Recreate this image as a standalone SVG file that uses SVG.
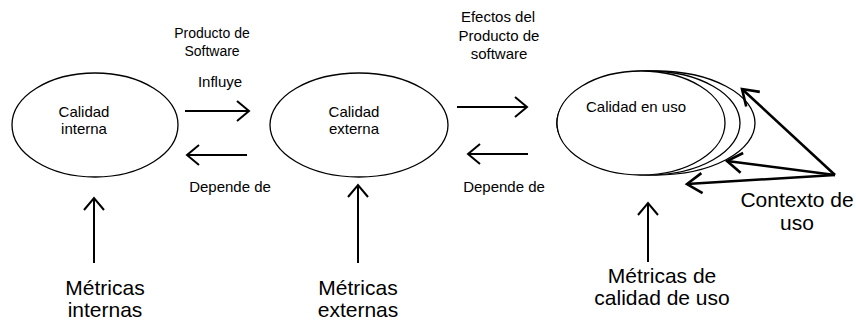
<svg xmlns="http://www.w3.org/2000/svg" width="856" height="320" viewBox="0 0 856 320">
<style>
text{font-family:"Liberation Sans",Arial,sans-serif;fill:#000;text-anchor:middle}
.s{font-size:15px}
.t{font-size:14px}
.b{font-size:21px}
.e{fill:#fff;stroke:#000;stroke-width:1.3}
.c{fill:none;stroke:#000;stroke-width:2}
.k{fill:none;stroke:#000;stroke-width:2.6}
</style>
<defs>
<marker id="ah" markerUnits="userSpaceOnUse" markerWidth="30" markerHeight="30" viewBox="-16 -15 20 30" refX="0" refY="0" orient="auto">
<path d="M-12,-10 L0,0 L-12,10" fill="none" stroke="#000" stroke-width="2"/>
</marker>
<marker id="ah2" markerUnits="userSpaceOnUse" markerWidth="30" markerHeight="30" viewBox="-20 -15 24 30" refX="0" refY="0" orient="auto">
<path d="M-15,-10 L0,0 L-15,10" fill="none" stroke="#000" stroke-width="2.6"/>
</marker>
</defs>
<g id="n-interna">
<ellipse class="e" cx="95" cy="125" rx="83" ry="52"/>
<text class="s" x="84" y="117">Calidad</text>
<text class="s" x="84" y="134">interna</text>
</g>
<g id="n-externa">
<ellipse class="e" cx="359" cy="125" rx="89" ry="52"/>
<text class="s" x="354" y="117">Calidad</text>
<text class="s" x="354" y="134">externa</text>
</g>
<g id="n-uso">
<ellipse class="e" cx="656" cy="123" rx="99" ry="52"/>
<ellipse class="e" cx="648.5" cy="123" rx="91.5" ry="52"/>
<ellipse class="e" cx="641" cy="123" rx="84" ry="52" stroke-width="2"/>
<text class="s" x="636" y="112">Calidad en uso</text>
</g>
<g id="n-labels">
<text class="t" x="212" y="38">Producto de</text>
<text class="t" x="212" y="56">Software</text>
<text class="s" x="220" y="87">Influye</text>
<text class="s" x="230" y="192">Depende de</text>
<text class="s" x="498" y="22">Efectos del</text>
<text class="s" x="499" y="41">Producto de</text>
<text class="s" x="499" y="59">software</text>
<text class="s" x="504" y="192">Depende de</text>
</g>
<g id="n-met-int">
<text class="b" x="105" y="295">Métricas</text>
<text class="b" x="105" y="317">internas</text>
</g>
<g id="n-met-ext">
<text class="b" x="358" y="295">Métricas</text>
<text class="b" x="358" y="317">externas</text>
</g>
<g id="n-met-uso">
<text class="b" x="662" y="283">Métricas de</text>
<text class="b" x="662" y="305">calidad de uso</text>
</g>
<g id="n-contexto">
<text class="b" x="797" y="207">Contexto de</text>
<text class="b" x="797" y="230">uso</text>
</g>
<g id="connectors">
<line class="c" x1="185" y1="111" x2="249" y2="111" marker-end="url(#ah)"/>
<line class="c" x1="247" y1="155" x2="187" y2="155" marker-end="url(#ah)"/>
<line class="c" x1="457" y1="107" x2="527" y2="107" marker-end="url(#ah)"/>
<line class="c" x1="528" y1="154" x2="468" y2="154" marker-end="url(#ah)"/>
<line class="c" x1="94" y1="263" x2="94" y2="198" marker-end="url(#ah)"/>
<line class="c" x1="358" y1="263" x2="358" y2="185" marker-end="url(#ah)"/>
<line class="c" x1="648" y1="262" x2="648" y2="203" marker-end="url(#ah)"/>
<line class="k" x1="835" y1="175" x2="742" y2="89" marker-end="url(#ah2)"/>
<line class="k" x1="835" y1="175" x2="727" y2="161" marker-end="url(#ah2)"/>
<line class="k" x1="835" y1="175" x2="687" y2="184" marker-end="url(#ah2)"/>
</g>
</svg>
